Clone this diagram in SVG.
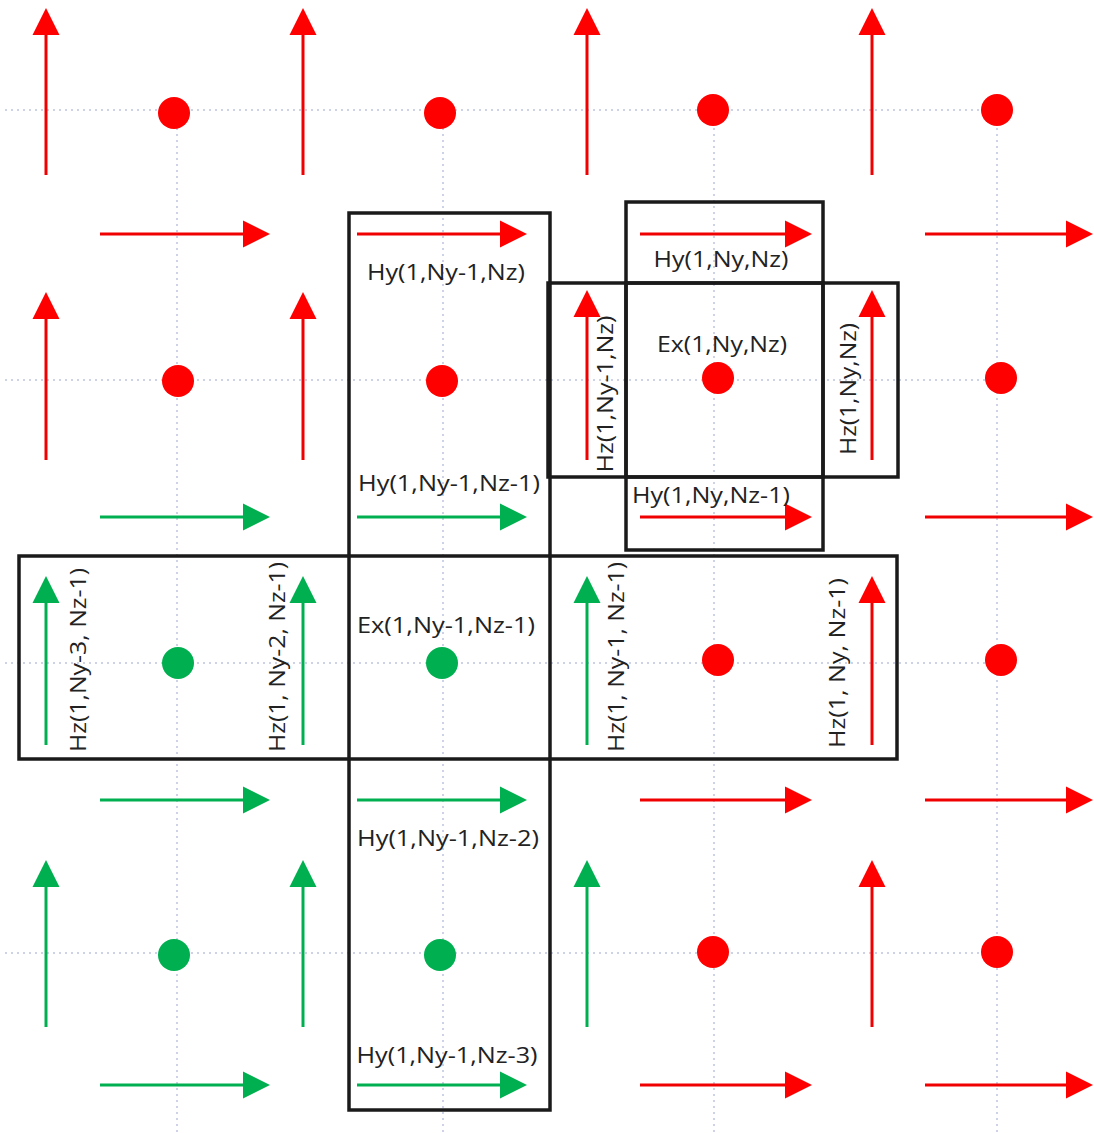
<svg xmlns="http://www.w3.org/2000/svg" width="1094" height="1133" viewBox="0 0 1094 1133">
<style>
.grid{stroke:#cdd2e6;stroke-width:2;stroke-dasharray:2 4;fill:none}
.r{stroke:#f00000;stroke-width:3;fill:none}
.g{stroke:#00b050;stroke-width:3;fill:none}
.ra{marker-end:url(#hr)}
.ga{marker-end:url(#hg)}
.dr{fill:#ff0000}
.dg{fill:#00b050}
.box{fill:none;stroke:#1a1a1a;stroke-width:3.5}
.lbl{font-family:"Open Sans","Liberation Sans",sans-serif;font-size:21px;fill:#222}
</style>
<defs>
<marker id="hr" markerUnits="userSpaceOnUse" markerWidth="28" markerHeight="28" refX="0" refY="13.5" orient="auto" overflow="visible"><path d="M0,0 L27,13.5 L0,27 Z" fill="#ff0000"/></marker>
<marker id="hg" markerUnits="userSpaceOnUse" markerWidth="28" markerHeight="28" refX="0" refY="13.5" orient="auto" overflow="visible"><path d="M0,0 L27,13.5 L0,27 Z" fill="#00b050"/></marker>
</defs>
<rect width="1094" height="1133" fill="#fff"/>
<g id="grid">
<line class="grid" x1="5" y1="110" x2="997" y2="110"/>
<line class="grid" x1="5" y1="380" x2="1001" y2="380"/>
<line class="grid" x1="5" y1="663" x2="1001" y2="663"/>
<line class="grid" x1="5" y1="953" x2="997" y2="953"/>
<line class="grid" x1="177" y1="110" x2="177" y2="1133"/>
<line class="grid" x1="443" y1="110" x2="443" y2="1133"/>
<line class="grid" x1="714" y1="110" x2="714" y2="1133"/>
<line class="grid" x1="997" y1="110" x2="997" y2="1133"/>
</g>
<g id="dots">
<circle class="dr" cx="174" cy="113" r="16"/><circle class="dr" cx="440" cy="113" r="16"/><circle class="dr" cx="713" cy="110" r="16"/><circle class="dr" cx="997" cy="110" r="16"/>
<circle class="dr" cx="178" cy="381" r="16"/><circle class="dr" cx="442" cy="381" r="16"/><circle class="dr" cx="718" cy="378" r="16"/><circle class="dr" cx="1001" cy="378" r="16"/>
<circle class="dg" cx="178" cy="663" r="16"/><circle class="dg" cx="442" cy="663" r="16"/><circle class="dr" cx="718" cy="660" r="16"/><circle class="dr" cx="1001" cy="660" r="16"/>
<circle class="dg" cx="174" cy="955" r="16"/><circle class="dg" cx="440" cy="955" r="16"/><circle class="dr" cx="713" cy="952" r="16"/><circle class="dr" cx="997" cy="952" r="16"/>
</g>
<g id="arrows">
<line class="r ra" x1="46" y1="175" x2="46" y2="35"/><line class="r ra" x1="303" y1="175" x2="303" y2="35"/><line class="r ra" x1="587" y1="175" x2="587" y2="35"/><line class="r ra" x1="872" y1="175" x2="872" y2="35"/>
<line class="r ra" x1="46" y1="460" x2="46" y2="319"/><line class="r ra" x1="303" y1="460" x2="303" y2="319"/><line class="r ra" x1="587" y1="460" x2="587" y2="317"/><line class="r ra" x1="872" y1="460" x2="872" y2="317"/>
<line class="g ga" x1="46" y1="745" x2="46" y2="603"/><line class="g ga" x1="303" y1="745" x2="303" y2="603"/><line class="g ga" x1="587" y1="745" x2="587" y2="603"/><line class="r ra" x1="872" y1="745" x2="872" y2="603"/>
<line class="g ga" x1="46" y1="1027" x2="46" y2="887"/><line class="g ga" x1="303" y1="1027" x2="303" y2="887"/><line class="g ga" x1="587" y1="1027" x2="587" y2="887"/><line class="r ra" x1="872" y1="1027" x2="872" y2="887"/>
<line class="r ra" x1="100" y1="234" x2="243" y2="234"/><line class="r ra" x1="357" y1="234" x2="500" y2="234"/><line class="r ra" x1="640" y1="234" x2="785" y2="234"/><line class="r ra" x1="925" y1="234" x2="1066" y2="234"/>
<line class="g ga" x1="100" y1="517" x2="243" y2="517"/><line class="g ga" x1="357" y1="517" x2="500" y2="517"/><line class="r ra" x1="640" y1="517" x2="785" y2="517"/><line class="r ra" x1="925" y1="517" x2="1066" y2="517"/>
<line class="g ga" x1="100" y1="800" x2="243" y2="800"/><line class="g ga" x1="357" y1="800" x2="500" y2="800"/><line class="r ra" x1="640" y1="800" x2="785" y2="800"/><line class="r ra" x1="925" y1="800" x2="1066" y2="800"/>
<line class="g ga" x1="100" y1="1085" x2="243" y2="1085"/><line class="g ga" x1="357" y1="1085" x2="500" y2="1085"/><line class="r ra" x1="640" y1="1085" x2="785" y2="1085"/><line class="r ra" x1="925" y1="1085" x2="1066" y2="1085"/>
</g>
<g id="column-box"><rect class="box" x="349" y="213" width="201" height="897"/></g>
<g id="row-box"><rect class="box" x="19" y="556" width="878" height="203"/></g>
<g id="cell-Hy-Ny-Nz"><rect class="box" x="626" y="202" width="197" height="81"/>
<text class="lbl" x="721" y="267" text-anchor="middle" textLength="135" lengthAdjust="spacingAndGlyphs">Hy(1,Ny,Nz)</text></g>
<g id="cell-Hz-left"><rect class="box" x="548" y="283" width="78" height="194"/>
<text class="lbl" transform="translate(605,394) rotate(-90)" x="0" y="8" text-anchor="middle" textLength="157" lengthAdjust="spacingAndGlyphs">Hz(1,Ny-1,Nz)</text></g>
<g id="cell-Ex-Ny-Nz"><rect class="box" x="626" y="283" width="197" height="194"/>
<text class="lbl" x="722" y="352" text-anchor="middle" textLength="130" lengthAdjust="spacingAndGlyphs">Ex(1,Ny,Nz)</text></g>
<g id="cell-Hz-right"><rect class="box" x="823" y="283" width="75" height="194"/>
<text class="lbl" transform="translate(848,389) rotate(-90)" x="0" y="8" text-anchor="middle" textLength="132" lengthAdjust="spacingAndGlyphs">Hz(1,Ny,Nz)</text></g>
<g id="cell-Hy-Ny-Nz-1"><rect class="box" x="626" y="477" width="197" height="73"/>
<text class="lbl" x="711" y="503" text-anchor="middle" textLength="158" lengthAdjust="spacingAndGlyphs">Hy(1,Ny,Nz-1)</text></g>
<g id="label-Hy-Ny-1-Nz"><text class="lbl" x="446" y="280" text-anchor="middle" textLength="158" lengthAdjust="spacingAndGlyphs">Hy(1,Ny-1,Nz)</text></g>
<g id="label-Hy-Ny-1-Nz-1"><text class="lbl" x="449" y="491" text-anchor="middle" textLength="182" lengthAdjust="spacingAndGlyphs">Hy(1,Ny-1,Nz-1)</text></g>
<g id="label-Ex-Ny-1-Nz-1"><text class="lbl" x="446" y="633" text-anchor="middle" textLength="178" lengthAdjust="spacingAndGlyphs">Ex(1,Ny-1,Nz-1)</text></g>
<g id="label-Hy-Ny-1-Nz-2"><text class="lbl" x="448" y="846" text-anchor="middle" textLength="182" lengthAdjust="spacingAndGlyphs">Hy(1,Ny-1,Nz-2)</text></g>
<g id="label-Hy-Ny-1-Nz-3"><text class="lbl" x="447" y="1063" text-anchor="middle" textLength="181" lengthAdjust="spacingAndGlyphs">Hy(1,Ny-1,Nz-3)</text></g>
<g id="label-Hz-Ny-3"><text class="lbl" transform="translate(78,660) rotate(-90)" x="0" y="8" text-anchor="middle" textLength="184" lengthAdjust="spacingAndGlyphs">Hz(1,Ny-3, Nz-1)</text></g>
<g id="label-Hz-Ny-2"><text class="lbl" transform="translate(277,657) rotate(-90)" x="0" y="8" text-anchor="middle" textLength="190" lengthAdjust="spacingAndGlyphs">Hz(1, Ny-2, Nz-1)</text></g>
<g id="label-Hz-Ny-1"><text class="lbl" transform="translate(616,657) rotate(-90)" x="0" y="8" text-anchor="middle" textLength="190" lengthAdjust="spacingAndGlyphs">Hz(1, Ny-1, Nz-1)</text></g>
<g id="label-Hz-Ny"><text class="lbl" transform="translate(837,663) rotate(-90)" x="0" y="8" text-anchor="middle" textLength="170" lengthAdjust="spacingAndGlyphs">Hz(1, Ny, Nz-1)</text></g>
</svg>
